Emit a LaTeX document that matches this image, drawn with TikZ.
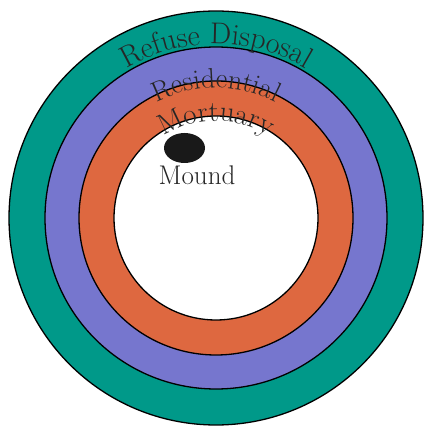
\documentclass[tikz,border=0pt]{standalone}
\usetikzlibrary{decorations.text}
\definecolor{refuseteal}{RGB}{0,153,137}
\definecolor{residblue}{RGB}{118,118,206}
\definecolor{mortorange}{RGB}{222,104,64}
\tikzset{
  ring/.style={draw=black, line width=1.3pt},
  ringlabel/.style 2 args={decorate, decoration={text along path, text align=center,
      text color=black!85, text={|\fontsize{#1}{30}\selectfont|#2}}}
}
\begin{document}
\begin{tikzpicture}[x=1pt, y=1pt]
\useasboundingbox (0,0) rectangle (425,429);
\coordinate (c) at (216,211);

% Rings
\draw[ring, fill=refuseteal] (c) circle[radius=207pt];
\draw[ring, fill=residblue] (c) circle[radius=171pt];
\draw[ring, fill=mortorange] (c) circle[radius=137pt];
\draw[ring, fill=white] (c) circle[radius=102pt];

% Ring labels
\path[ringlabel={30}{Refuse Disposal}] (c) ++(180:174pt) arc[start angle=180, end angle=0, radius=174pt];
\path[ringlabel={28}{Residential}] (c) ++(180:130pt) arc[start angle=180, end angle=0, radius=130pt];
\path[ringlabel={29}{Mortuary}] (c) ++(180:97pt) arc[start angle=180, end angle=0, radius=97pt];

% Mound
\fill[black!90] (184.5,281) ellipse[x radius=20.5pt, y radius=15pt];
\node[anchor=base, inner sep=0pt, font=\fontsize{27}{30}\selectfont, text=black!85] (mound) at (197,244) {Mound};
\end{tikzpicture}
\end{document}
